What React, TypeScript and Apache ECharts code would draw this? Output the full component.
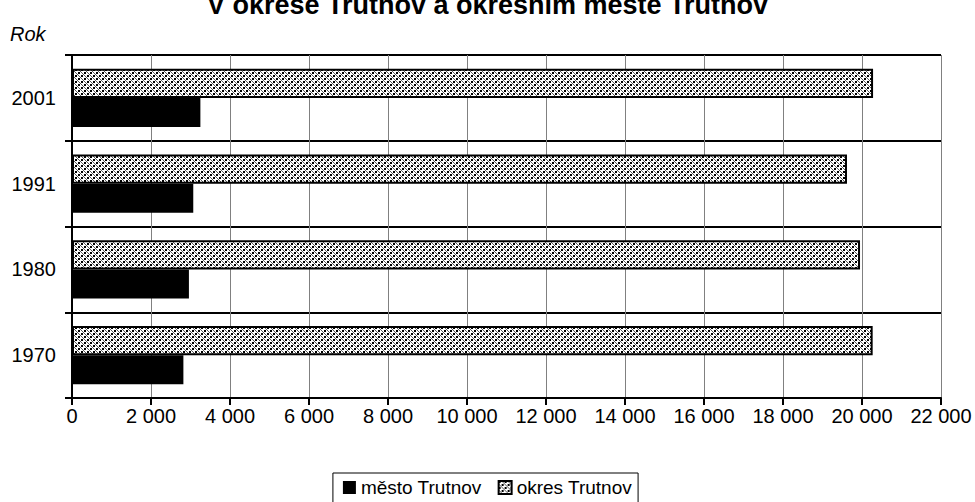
import React, { useEffect, useRef } from "react";
import * as echarts from "echarts";

const years = ["1970", "1980", "1991", "2001"];
const mestoValues = [2820, 2960, 3070, 3250];
const okresValues = [20270, 19950, 19620, 20280];
const seriesNames = ["město Trutnov", "okres Trutnov"];
const titleText = "V okrese Trutnov a okresním městě Trutnov";
const yAxisName = "Rok";

const FONT = "'Liberation Sans', Arial, sans-serif";

function makePattern(): string {
  const c = document.createElement("canvas");
  c.width = 6;
  c.height = 6;
  const ctx = c.getContext("2d")!;
  ctx.fillStyle = "#ffffff";
  ctx.fillRect(0, 0, 6, 6);
  ctx.fillStyle = "#000000";
  ctx.fillRect(0, 0, 2, 2);
  ctx.fillRect(3, 3, 2, 2);
  ctx.fillStyle = "#5a5a5a";
  [[3, 0], [4, 1], [0, 3], [1, 4], [5, 2], [2, 5]].forEach(([x, y]) => ctx.fillRect(x, y, 1, 1));
  return c.toDataURL();
}

export default function App() {
  const ref = useRef<HTMLDivElement>(null);
  useEffect(() => {
    if (!ref.current) return;
    const chart = echarts.init(ref.current, undefined, { renderer: "svg" });
    const pattern = makePattern();
    chart.setOption({
      animation: false,
      backgroundColor: "#ffffff",
      textStyle: { fontFamily: FONT },
      title: {
        text: titleText,
        left: "center",
        top: -14,
        textStyle: { fontSize: 27, fontWeight: "bold", color: "#000", fontFamily: FONT },
      },
      graphic: [
        {
          type: "text",
          left: 10,
          top: 24,
          style: { text: yAxisName, font: `italic 20px ${FONT}`, fill: "#000" },
        },
      ],
      legend: {
        top: 473,
        left: "center",
        data: seriesNames,
        borderColor: "#000",
        borderWidth: 1,
        padding: [5, 6, 8, 10],
        itemWidth: 13,
        itemHeight: 13,
        itemGap: 16,
        icon: "rect",
        textStyle: { fontSize: 19, color: "#000", fontFamily: FONT },
      },
      grid: { left: 72, right: 34, top: 55, bottom: 104, containLabel: false },
      xAxis: {
        type: "value",
        min: 0,
        max: 22000,
        interval: 2000,
        axisLine: { show: true, lineStyle: { color: "#000", width: 2 } },
        axisTick: { show: true, length: 7, lineStyle: { color: "#000", width: 2 } },
        axisLabel: {
          margin: 8,
          fontSize: 20,
          color: "#000",
          fontFamily: FONT,
          formatter: (v: number) => String(v).replace(/\B(?=(\d{3})+(?!\d))/g, " "),
        },
        splitLine: { show: true, lineStyle: { color: "#808080", width: 1 } },
      },
      yAxis: {
        type: "category",
        data: years,
        axisLine: { show: true, lineStyle: { color: "#000", width: 2 } },
        axisTick: { show: true, length: 7, lineStyle: { color: "#000", width: 2 } },
        axisLabel: { margin: 16, fontSize: 20, color: "#000", fontFamily: FONT },
        splitLine: { show: true, lineStyle: { color: "#000", width: 2 } },
      },
      series: [
        {
          name: seriesNames[1],
          type: "bar",
          data: okresValues,
          barGap: "0%",
          barCategoryGap: "32%",
          itemStyle: {
            color: { image: pattern, repeat: "repeat" },
            borderColor: "#000",
            borderWidth: 2,
          },
        },
        {
          name: seriesNames[0],
          type: "bar",
          data: mestoValues,
          barGap: "0%",
          barCategoryGap: "32%",
          itemStyle: { color: "#000000" },
        },
      ],
    });
    return () => chart.dispose();
  }, []);
  return <div ref={ref} style={{ width: 975, height: 502, position: "absolute", left: 0, top: 0 }} />;
}
